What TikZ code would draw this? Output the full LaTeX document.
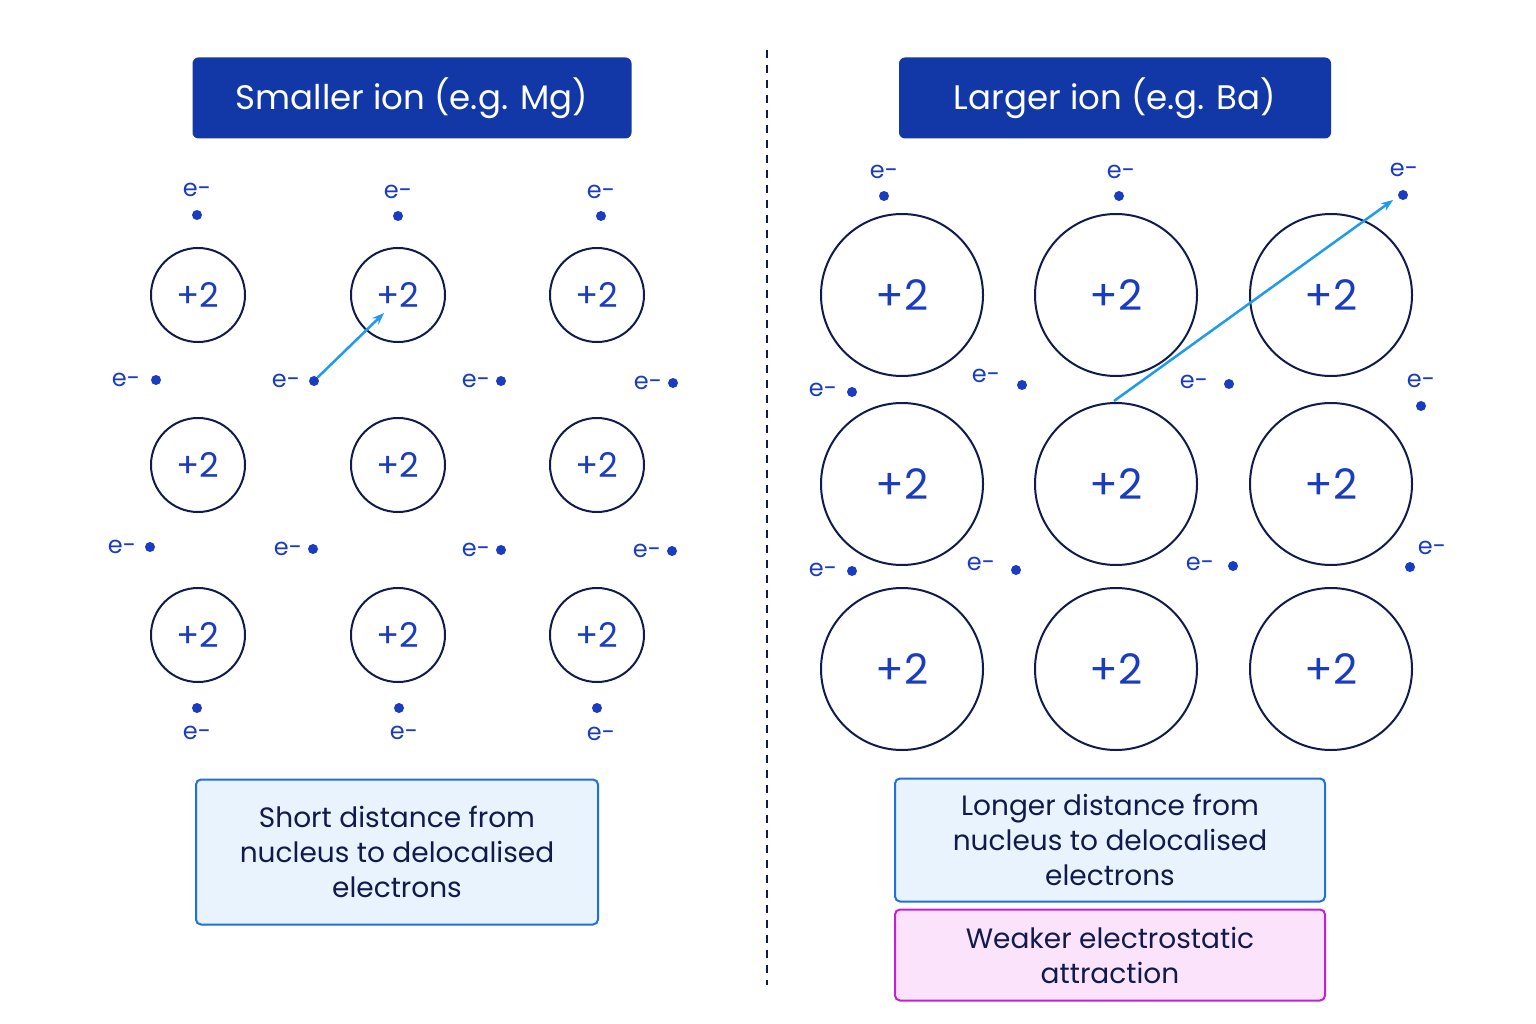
\documentclass[tikz,border=0pt]{standalone}
\usepackage{fontspec}
\setmainfont{Poppins}
\usetikzlibrary{arrows.meta}
\definecolor{dblue}{HTML}{1238A8}
\definecolor{navy}{HTML}{111A4D}
\definecolor{ionb}{HTML}{1A3CC0}
\definecolor{lblue}{HTML}{E8F3FD}
\definecolor{bblue}{HTML}{1F6FE0}
\definecolor{pinkf}{HTML}{FBE4FB}
\definecolor{pinkb}{HTML}{C21FD6}
\definecolor{arr}{HTML}{1E9BF0}
\begin{document}
\begin{tikzpicture}[x=1pt,y=-1pt,
 title/.style={fill=dblue,rounded corners=6pt,text=white,font=\fontsize{34}{40}\selectfont},
 ion/.style={circle,draw=navy,line width=2pt,text=ionb,inner sep=0pt},
 sion/.style={ion,minimum size=94pt,font=\fontsize{34}{40}\selectfont},
 lion/.style={ion,minimum size=162pt,font=\fontsize{42}{48}\selectfont},
 el/.style={text=ionb,font=\fontsize{24}{28}\selectfont,inner sep=0pt},
 dot/.style={circle,fill=ionb,minimum size=10pt,inner sep=0pt},
 note/.style={rounded corners=5pt,line width=2pt,text=navy,align=center,font=\fontsize{28}{35}\selectfont},
 ar/.style={arr,line width=2.5pt,-{Stealth[length=12pt]}}]
\fill[white] (0,0) rectangle (1536,1024);
\draw[navy,line width=1.5pt,dash pattern=on 8pt off 7pt] (767,50) -- (767,985);
\node[title,minimum width=439pt,minimum height=81pt] (t1) at (412,98) {Smaller ion (e.g. Mg)};
\node[title,minimum width=432pt,minimum height=81pt] (t2) at (1115,98) {Larger ion (e.g. Ba)};
\foreach \x [count=\i] in {198,398,597}{
 \foreach \y [count=\j] in {295,465,635}{
  \node[sion] (s\i\j) at (\x,\y) {+2};}}
\foreach \x [count=\i] in {902,1116,1331}{
 \foreach \y [count=\j] in {295,484,669}{
  \node[lion] (l\i\j) at (\x,\y) {+2};}}
% left electrons
\foreach \tx/\ty/\dx/\dy [count=\k] in {197/190/197/215, 398/192/398/216, 601/192/601/216,
 126/380/156/380, 286/381/314/381, 476/381/501/381, 648/383/673/383,
 122/547/150/547, 288/549/313/549, 476/550/501/550, 647/551/672/551,
 197/733/197/708, 404/733/399/708, 601/734/597/708}{
 \node[el] (le\k) at (\tx,\ty) {e-};
 \node[dot] (ld\k) at (\dx,\dy) {};}
% right electrons
\foreach \tx/\ty/\dx/\dy [count=\k] in {884/172/884/196, 1121/172/1119/196, 1404/170/1403/195,
 823/390/852/392, 986/376/1022/385, 1194/382/1229/384, 1421/381/1421/406,
 823/570/852/571, 981/564/1016/570, 1200/564/1233/566, 1432/548/1410/567}{
 \node[el] (re\k) at (\tx,\ty) {e-};
 \node[dot] (rd\k) at (\dx,\dy) {};}
\coordinate (a1) at (384,313);
\draw[ar] (ld5) -- (a1);
\coordinate (b0) at (1114,401);
\coordinate (b1) at (1393,200);
\draw[ar] (b0) -- (b1);
\node[note,draw=bblue,fill=lblue,minimum width=402pt,minimum height=145pt] (n1) at (397,852)
 {Short distance from\\nucleus to delocalised\\electrons};
\node[note,draw=bblue,fill=lblue,minimum width=430pt,minimum height=123pt] (n2) at (1110,840)
 {Longer distance from\\nucleus to delocalised\\electrons};
\node[note,draw=pinkb,fill=pinkf,minimum width=430pt,minimum height=91pt] (n3) at (1110,955)
 {Weaker electrostatic\\attraction};
\end{tikzpicture}
\end{document}
